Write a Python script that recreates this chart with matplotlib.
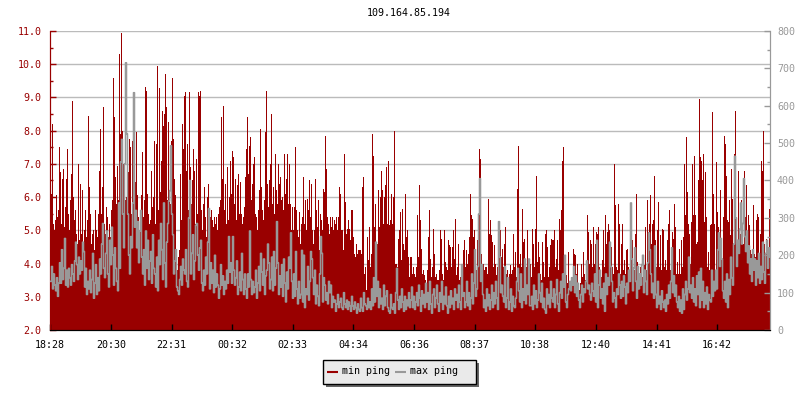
"""Min/max ping over 24 hours for one host."""

from __future__ import annotations

import matplotlib

matplotlib.use("Agg")
import matplotlib.pyplot as plt
import numpy as np
from matplotlib.lines import Line2D
from matplotlib.patches import Rectangle
from matplotlib.ticker import MultipleLocator


TITLE = "109.164.85.194"
TIME_LABELS = ["18:28", "20:30", "22:31", "00:32", "02:33", "04:34",
               "06:36", "08:37", "10:38", "12:40", "14:41", "16:42"]
TIME_MINUTES = [0, 122, 243, 364, 485, 606, 728, 849, 970, 1092, 1213, 1334]
SERIES_NAMES = ["min ping", "max ping"]
SAMPLE_MINUTES = 2

# left axis, one value per sample
MIN_PING = [
    6.1, 6.1, 8.2, 5.2, 5.0, 5.3, 6.05, 5.4, 5.6, 7.5,
    6.75, 5.2, 6.55, 6.85, 5.1, 5.7, 6.55, 7.45, 5.5, 5.0,
    5.9, 6.7, 8.9, 6.0, 5.3, 5.6, 4.9, 4.6, 7.0, 4.7,
    6.4, 4.9, 6.2, 4.4, 5.0, 5.6, 4.8, 5.3, 8.45, 6.3,
    5.5, 4.6, 4.9, 5.0, 4.4, 5.6, 5.0, 4.8, 5.5, 6.8,
    8.05, 5.5, 6.3, 8.7, 5.2, 4.9, 5.7, 5.4, 4.8, 5.2,
    4.8, 5.6, 5.9, 9.6, 8.4, 6.6, 5.8, 6.95, 5.9, 10.3,
    7.9, 10.95, 8.0, 7.0, 6.1, 5.9, 6.0, 5.7, 6.75, 7.75,
    7.5, 5.5, 7.7, 5.8, 7.15, 6.45, 7.95, 6.05, 5.4, 5.0,
    5.6, 6.05, 7.35, 5.4, 5.9, 9.3, 9.2, 6.1, 5.5, 5.2,
    5.3, 6.8, 5.7, 6.0, 7.7, 5.2, 7.6, 9.95, 5.6, 9.27,
    6.15, 7.1, 8.6, 8.15, 8.5, 9.7, 8.7, 5.9, 8.25, 6.2,
    5.8, 7.7, 9.6, 7.75, 6.55, 6.05, 4.0, 3.8, 4.2, 4.4,
    6.7, 5.3, 8.2, 7.45, 9.05, 9.15, 6.8, 7.6, 5.6, 9.15,
    6.9, 5.8, 6.5, 7.45, 6.8, 5.2, 7.15, 5.5, 9.15, 9.05,
    9.2, 5.6, 5.0, 5.8, 6.3, 5.4, 4.8, 6.0, 6.4, 5.3,
    5.4, 5.6, 5.3, 5.1, 5.4, 5.2, 5.4, 5.0, 5.5, 5.7,
    5.9, 8.4, 6.55, 8.75, 5.6, 6.4, 5.2, 6.9, 5.3, 6.0,
    7.1, 6.1, 7.4, 7.2, 5.8, 6.55, 5.3, 6.35, 6.7, 5.5,
    6.45, 5.5, 5.2, 5.4, 5.7, 6.6, 7.45, 8.4, 6.7, 7.55,
    7.8, 5.9, 6.4, 7.0, 7.2, 5.5, 5.4, 5.0, 5.6, 6.2,
    8.05, 6.3, 5.6, 5.3, 5.9, 7.95, 9.2, 6.4, 5.7, 6.5,
    7.0, 8.5, 5.8, 6.3, 5.5, 7.3, 6.2, 5.8, 7.0, 6.4,
    6.6, 5.9, 6.0, 5.6, 7.3, 6.1, 6.55, 7.3, 5.8, 7.0,
    5.8, 5.0, 5.7, 5.0, 5.7, 7.5, 5.6, 5.0, 4.8, 5.55,
    4.6, 5.2, 5.4, 6.6, 5.2, 5.9, 5.0, 5.95, 5.6, 6.5,
    5.4, 6.4, 5.0, 4.6, 5.0, 6.55, 5.6, 5.1, 5.9, 4.4,
    5.5, 5.3, 5.0, 6.25, 6.15, 7.85, 6.85, 5.4, 5.2, 4.9,
    5.4, 5.1, 5.4, 5.0, 5.3, 5.2, 5.4, 5.0, 5.4, 6.3,
    6.1, 5.0, 5.0, 4.4, 7.3, 5.85, 4.9, 5.05, 5.3, 5.05,
    4.7, 5.6, 5.6, 4.8, 4.3, 4.2, 4.6, 4.3, 4.4, 4.4,
    4.4, 4.3, 6.3, 6.6, 3.7, 3.9, 3.2, 4.8, 4.1, 5.1,
    3.9, 4.3, 7.9, 7.25, 5.1, 5.8, 4.2, 4.6, 6.2, 5.1,
    6.0, 6.8, 6.2, 5.2, 6.0, 6.35, 6.9, 5.2, 7.1, 5.15,
    5.3, 6.1, 5.2, 6.0, 8.0, 4.0, 4.0, 3.9, 4.75, 5.0,
    5.55, 4.1, 5.65, 4.6, 4.4, 6.1, 4.8, 5.0, 4.2, 3.6,
    4.2, 4.2, 3.7, 3.9, 3.7, 3.6, 3.9, 5.45, 4.2, 6.35,
    5.3, 4.45, 3.7, 3.8, 3.65, 3.5, 3.4, 3.8, 4.8, 5.6,
    4.15, 3.6, 3.9, 5.05, 4.3, 3.6, 3.7, 3.5, 3.5, 3.8,
    5.0, 4.75, 3.7, 3.5, 5.0, 4.05, 3.9, 3.8, 4.7, 4.55,
    4.5, 3.9, 4.5, 5.0, 4.15, 5.35, 3.65, 3.9, 4.6, 3.5,
    3.6, 3.4, 3.8, 4.4, 4.7, 3.9, 4.4, 4.0, 4.3, 4.8,
    6.1, 5.45, 5.35, 4.8, 5.0, 4.2, 3.8, 4.7, 4.2, 7.45,
    7.15, 4.3, 3.9, 4.0, 3.8, 3.9, 3.9, 3.7, 5.95, 4.9,
    5.3, 4.85, 4.65, 3.9, 4.55, 4.0, 3.65, 3.9, 4.1, 5.2,
    5.0, 4.2, 4.45, 3.9, 4.6, 5.1, 3.7, 3.8, 3.6, 3.7,
    3.95, 3.7, 3.8, 4.9, 3.9, 4.35, 3.6, 6.25, 7.55, 4.0,
    4.3, 3.9, 5.65, 4.65, 4.75, 3.9, 3.9, 5.0, 3.8, 3.4,
    4.0, 3.6, 5.05, 4.6, 3.9, 5.05, 6.65, 4.05, 4.65, 4.2,
    3.7, 3.5, 4.65, 4.05, 3.6, 4.9, 5.0, 4.5, 3.6, 3.9,
    4.55, 4.75, 4.7, 4.7, 5.0, 3.9, 4.15, 4.7, 3.8, 5.35,
    5.0, 5.6, 7.1, 7.5, 3.9, 3.5, 3.65, 3.4, 4.35, 3.3,
    3.4, 3.5, 3.6, 4.45, 4.3, 4.25, 3.7, 4.0, 3.4, 3.2,
    3.4, 4.0, 3.6, 4.35, 3.7, 3.5, 3.8, 5.45, 4.95, 4.0,
    4.7, 4.6, 3.9, 5.1, 4.0, 4.6, 4.95, 4.9, 5.1, 3.9,
    3.7, 3.6, 4.1, 5.0, 3.9, 5.45, 4.6, 4.95, 5.2, 5.0,
    4.25, 4.5, 3.9, 3.7, 7.0, 5.75, 3.9, 3.8, 5.8, 5.2,
    3.7, 4.6, 5.2, 3.8, 4.1, 3.7, 4.4, 4.45, 3.9, 3.6,
    3.8, 4.95, 4.7, 3.9, 3.8, 4.9, 6.1, 4.05, 3.8, 3.7,
    3.9, 3.7, 3.6, 3.8, 3.95, 5.1, 3.8, 5.9, 4.95, 5.2,
    6.05, 4.6, 5.2, 5.3, 6.65, 4.7, 3.9, 5.0, 5.85, 3.9,
    4.85, 3.8, 5.05, 5.0, 3.9, 4.1, 3.8, 4.7, 5.2, 5.6,
    3.8, 3.9, 4.95, 4.75, 5.8, 5.1, 3.7, 4.05, 3.7, 4.45,
    3.7, 4.7, 3.9, 4.8, 7.0, 5.45, 7.8, 6.15, 5.2, 4.9,
    4.0, 5.25, 7.0, 5.45, 7.25, 5.45, 4.6, 4.65, 6.5, 8.95,
    7.2, 7.1, 6.5, 7.3, 5.25, 6.75, 5.4, 3.9, 4.35, 3.8,
    5.15, 5.2, 8.55, 6.1, 5.2, 3.8, 7.05, 5.55, 5.1, 4.3,
    6.2, 4.6, 4.0, 5.4, 7.85, 7.6, 6.65, 5.3, 5.25, 5.9,
    4.85, 6.85, 5.95, 4.2, 7.3, 8.6, 4.65, 4.0, 6.8, 4.9,
    4.9, 5.9, 4.7, 4.6, 6.8, 5.4, 6.35, 4.2, 5.45, 5.15,
    4.4, 4.3, 4.0, 5.75, 4.3, 4.2, 5.3, 5.5, 5.4, 4.2,
    4.9, 7.1, 6.8, 8.0, 4.6, 4.3, 4.75, 4.4, 4.3, 5.65,
]

# right axis, one value per sample
MAX_PING = [
    130, 170, 110, 150, 120, 105, 140, 90, 125, 180,
    125, 215, 135, 165, 245, 120, 160, 115, 165, 140,
    120, 175, 150, 130, 185, 235, 175, 135, 195, 150,
    185, 160, 235, 210, 115, 165, 95, 130, 110, 160,
    100, 135, 205, 85, 125, 175, 95, 140, 105, 190,
    150, 230, 285, 165, 140, 205, 265, 150, 115, 240,
    175, 275, 200, 120, 220, 165, 130, 105, 340, 165,
    450, 510, 310, 220, 445, 715, 525, 310, 200, 150,
    250, 220, 340, 635, 275, 320, 220, 290, 180, 265,
    320, 195, 150, 215, 120, 265, 165, 240, 135, 185,
    210, 125, 255, 165, 150, 115, 195, 105, 240, 175,
    285, 215, 135, 340, 180, 115, 235, 285, 345, 373,
    493, 310, 255, 150, 185, 215, 115, 105, 95, 135,
    170, 120, 190, 160, 150, 215, 130, 115, 300, 400,
    150, 205, 255, 135, 185, 280, 285, 200, 160, 220,
    240, 125, 105, 160, 120, 195, 150, 235, 325, 110,
    180, 125, 160, 100, 200, 115, 150, 120, 85, 110,
    175, 120, 145, 95, 130, 110, 160, 125, 250, 155,
    180, 125, 250, 160, 120, 140, 185, 95, 115, 155,
    105, 205, 135, 95, 150, 110, 85, 150, 115, 265,
    135, 95, 130, 100, 115, 160, 85, 125, 170, 105,
    205, 155, 120, 190, 95, 145, 160, 230, 180, 110,
    135, 195, 105, 210, 120, 165, 290, 180, 95, 145,
    115, 175, 90, 190, 125, 75, 155, 110, 195, 165,
    260, 130, 85, 150, 90, 210, 110, 70, 130, 85,
    95, 213, 75, 200, 60, 110, 95, 170, 80, 130,
    210, 190, 140, 95, 160, 70, 120, 90, 65, 150,
    250, 205, 75, 140, 120, 80, 100, 70, 130, 100,
    120, 60, 90, 75, 80, 50, 70, 95, 60, 75,
    85, 60, 55, 100, 70, 60, 80, 55, 75, 65,
    50, 90, 65, 55, 75, 60, 45, 70, 55, 50,
    85, 60, 50, 100, 70, 65, 55, 85, 60, 75,
    55, 110, 65, 140, 75, 235, 90, 130, 60, 110,
    70, 85, 55, 120, 65, 90, 105, 60, 50, 45,
    95, 60, 55, 70, 45, 100, 165, 80, 55, 90,
    60, 110, 75, 50, 90, 55, 80, 65, 100, 60,
    80, 115, 60, 90, 55, 75, 100, 65, 120, 85,
    50, 105, 70, 95, 60, 125, 75, 100, 55, 130,
    70, 45, 95, 110, 60, 85, 120, 70, 50, 100,
    75, 130, 55, 90, 70, 115, 65, 45, 90, 60,
    105, 70, 85, 55, 110, 80, 95, 60, 120, 75,
    55, 175, 90, 100, 60, 75, 130, 65, 100, 55,
    85, 150, 70, 125, 215, 90, 110, 170, 310, 405,
    130, 175, 95, 60, 80, 50, 110, 65, 95, 55,
    80, 120, 60, 100, 70, 130, 85, 55, 290, 195,
    100, 120, 90, 75, 170, 60, 85, 140, 55, 75,
    110, 50, 90, 65, 60, 85, 130, 165, 105, 75,
    150, 60, 110, 80, 190, 70, 120, 95, 190, 65,
    65, 90, 55, 120, 70, 105, 60, 80, 150, 100,
    75, 125, 60, 85, 55, 45, 110, 70, 95, 60,
    130, 85, 75, 110, 60, 95, 135, 70, 50, 100,
    130, 85, 150, 115, 200, 75, 60, 95, 110, 130,
    105, 140, 120, 170, 100, 145, 90, 125, 80, 60,
    95, 120, 75, 110, 100, 130, 185, 110, 120, 95,
    80, 125, 105, 90, 150, 75, 240, 60, 120, 160,
    85, 110, 70, 125, 50, 150, 95, 140, 120, 235,
    170, 130, 75, 100, 85, 60, 110, 95, 150, 120,
    85, 130, 90, 145, 115, 70, 125, 100, 160, 130,
    340, 190, 105, 165, 220, 130, 85, 170, 110, 150,
    120, 175, 200, 100, 160, 130, 95, 180, 260, 215,
    150, 100, 125, 85, 225, 95, 60, 130, 70, 90,
    55, 105, 75, 60, 80, 50, 95, 70, 120, 85,
    130, 220, 100, 145, 90, 120, 75, 60, 90, 50,
    80, 45, 110, 55, 95, 130, 80, 110, 195, 100,
    120, 85, 140, 75, 110, 65, 145, 95, 155, 60,
    165, 80, 130, 60, 100, 70, 115, 55, 95, 80,
    75, 160, 90, 130, 105, 160, 110, 215, 260, 170,
    245, 190, 105, 85, 130, 75, 150, 60, 135, 95,
    195, 140, 120, 230, 465, 300, 170, 240, 205, 270,
    340, 230, 285, 405, 250, 210, 265, 180, 225, 150,
    190, 130, 215, 160, 190, 120, 185, 140, 205, 125,
    170, 135, 235, 155, 125, 205, 240, 165, 220, 195,
]

RED = "#990000"
GRAY = "#999999"
GRID = "#bbbbbb"
FONT = "DejaVu Sans Mono"
FONT_SIZE = 7.2


def fig_x(px: float) -> float:
    return px / 800


def fig_y(px: float) -> float:
    return 1 - px / 400


def draw_legend(fig: plt.Figure) -> None:
    # shadow first, then the box over it
    fig.add_artist(Rectangle((fig_x(326), fig_y(386.5)), 152.5 / 800, 24 / 400,
                             transform=fig.transFigure, facecolor="#666666", linewidth=0))
    fig.add_artist(Rectangle((fig_x(323), fig_y(383.5)), 152.5 / 800, 24 / 400,
                             transform=fig.transFigure, facecolor="#eaeaea",
                             edgecolor="black", linewidth=1))
    entries = [(327, 342, RED, SERIES_NAMES[0]), (395, 410, GRAY, SERIES_NAMES[1])]
    for line_x, text_x, color, name in entries:
        fig.add_artist(Line2D([fig_x(line_x), fig_x(line_x + 11)], [fig_y(372), fig_y(372)],
                              transform=fig.transFigure, color=color, linewidth=1.5,
                              solid_capstyle="butt"))
        fig.text(fig_x(text_x), fig_y(371), name, ha="left", va="center", color="black")


def main() -> None:
    plt.rcParams["font.family"] = FONT
    plt.rcParams["font.size"] = FONT_SIZE

    fig = plt.figure(figsize=(8, 4), dpi=100, facecolor="white")
    ax = fig.add_axes([50 / 800, 70 / 400, 720 / 800, 299 / 400])
    minutes = np.arange(len(MIN_PING)) * SAMPLE_MINUTES

    ax.bar(minutes, np.array(MIN_PING) - 2.0, bottom=2.0, width=SAMPLE_MINUTES,
           align="edge", color=RED, linewidth=0, antialiased=False, zorder=2)
    ax.set_xlim(0, 1440)
    ax.set_ylim(2, 11)
    ax.set_axisbelow(True)
    ax.yaxis.set_major_locator(MultipleLocator(1))
    ax.yaxis.set_minor_locator(MultipleLocator(0.5))
    ax.yaxis.set_major_formatter(lambda v, _: f"{v:.1f}")
    ax.grid(axis="y", which="major", color=GRID, linewidth=1)
    ax.tick_params(axis="y", which="major", direction="in", length=4, width=1,
                   color=RED, labelcolor=RED, pad=6)
    ax.tick_params(axis="y", which="minor", direction="in", length=2.5, width=1, color=RED)

    ax_right = ax.twinx()
    ax_right.plot(minutes + SAMPLE_MINUTES / 2, MAX_PING, drawstyle="steps-post",
                  color=GRAY, linewidth=1.1, zorder=3)
    ax_right.set_ylim(0, 800)
    ax_right.yaxis.set_major_locator(MultipleLocator(100))
    ax_right.yaxis.set_minor_locator(MultipleLocator(50))
    ax_right.tick_params(axis="y", which="major", direction="in", length=4, width=1,
                         color=GRAY, labelcolor=GRAY, pad=5)
    ax_right.tick_params(axis="y", which="minor", direction="in", length=2.5, width=1, color=GRAY)

    # time ticks sit on the upper axes so they show over the red area
    ax_right.xaxis.set_visible(True)
    ax_right.set_xticks(TIME_MINUTES, TIME_LABELS)
    ax.tick_params(axis="x", length=0, labelbottom=False)
    ax_right.tick_params(axis="x", direction="in", length=4, width=1, color="black",
                         bottom=True, labelbottom=True, pad=7)

    for axis in (ax, ax_right):
        axis.spines["top"].set_visible(False)
        axis.spines["left"].set_color(RED)
        axis.spines["right"].set_color(GRAY)
        axis.spines["bottom"].set_color("black")

    fig.text(fig_x(409), fig_y(13), TITLE, ha="center", va="center", color="black")
    draw_legend(fig)

    fig.savefig("out.png", dpi=100)
    plt.close(fig)


if __name__ == "__main__":
    main()
